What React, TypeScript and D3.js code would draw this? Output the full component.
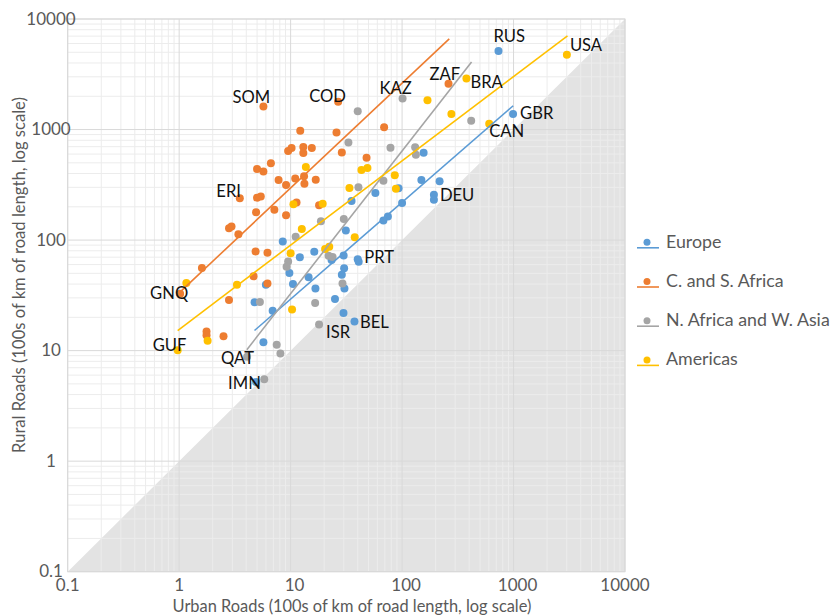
import React from "react";
import * as d3 from "d3";

// [urban, rural, label] in 100s of km
const europe: [number, number, string?][] = [
  [733, 5130, "RUS"], [990, 1380, "GBR"], [156, 617], [149, 349], [217, 340],
  [193, 257, "DEU"], [193, 232], [57.6, 267], [93, 294], [35.2, 226], [100, 217],
  [74.6, 163], [68, 150], [31.3, 122], [16.3, 78.5], [12.1, 70], [29.9, 72.6],
  [40, 67, "PRT"], [40.8, 63.8], [23.3, 66], [14.5, 46], [16.7, 36.5], [30.2, 55.5],
  [28.8, 48.6], [30.4, 36.5], [25, 29.3], [29.8, 21.9], [37.4, 18.3, "BEL"],
  [8.5, 97], [9.75, 50.5], [10.5, 40], [6.0, 39.5], [4.75, 27.4], [6.9, 23],
  [5.7, 11.9], [4.9, 5.2, "IMN"],
];

const africa: [number, number, string?][] = [
  [5.7, 1620, "SOM"], [26.7, 1780, "COD"], [261, 2600, "ZAF"], [12.2, 975], [25.8, 940],
  [69, 1050], [9.5, 640], [10.2, 680], [13, 695], [13, 615], [15.5, 680], [28.8, 620],
  [48, 555], [6.65, 495], [5.0, 440], [5.7, 418], [7.8, 350], [9.1, 315], [11, 361],
  [13.2, 377], [13.3, 324], [16.8, 352], [3.5, 239, "ERI"], [5.0, 242], [5.4, 248],
  [4.9, 179], [7.15, 188], [9.1, 168], [11.3, 219], [18, 207], [2.8, 128], [2.95, 133],
  [3.4, 113], [4.85, 79], [6.2, 77], [1.6, 56], [1.02, 32.7, "GNQ"], [4.65, 47],
  [6.2, 40.5], [2.8, 28.7], [1.76, 14.9], [1.76, 13.8], [2.5, 13.5],
];

const asia: [number, number, string?][] = [
  [101, 1910, "KAZ"], [40, 1460], [417, 1200], [33, 765], [78.7, 685], [131, 690],
  [133, 592], [68, 344], [40.6, 300], [18.7, 148], [30, 155], [21.9, 72.3], [23.8, 70.3],
  [29.2, 40.4], [16.6, 27], [11.1, 107], [9.5, 64], [9.2, 57.5], [5.3, 27.6],
  [18, 17.2, "ISR"], [7.5, 11.3], [8.1, 9.4], [5.8, 5.5], [4.07, 8.8, "QAT"],
];

const americas: [number, number, string?][] = [
  [3010, 4740, "USA"], [378, 2900, "BRA"], [169, 1840], [277, 1380], [605, 1130, "CAN"],
  [13.7, 458], [43.2, 430], [48.9, 449], [86, 385], [33.7, 296], [88, 292], [19.4, 213],
  [10.6, 211], [12.6, 126], [37.6, 106], [20.4, 83], [22.2, 87], [10, 76], [3.3, 39.4],
  [1.16, 41], [10.3, 23.5], [1.8, 12.3], [0.97, 10.1, "GUF"],
];

// power trendlines, [x0, y0, x1, y1]
const trendLines: Record<string, [number, number, number, number]> = {
  Europe: [4.74, 15.2, 993, 1641],
  "C. and S. Africa": [1, 33.3, 265, 6620],
  "N. Africa and W. Asia": [4.05, 10.2, 420, 4074],
  Americas: [0.97, 15.2, 3048, 7047],
};

const seriesNames = ["Europe", "C. and S. Africa", "N. Africa and W. Asia", "Americas"];
const seriesData = [europe, africa, asia, americas];
const colors = ["#5B9BD5", "#ED7D31", "#A5A5A5", "#FFC000"];

const majorTicks = [0.1, 1, 10, 100, 1000, 10000];
const tickLabels = ["0.1", "1", "10", "100", "1000", "10000"];

// label placement relative to its point (px)
const labelOffset: Record<string, [number, number]> = {
  SOM: [-31, -3], COD: [-29, 0], KAZ: [-23, -4], ZAF: [-19, -4], BRA: [4, 10],
  RUS: [-5, -9], USA: [3, -4], GBR: [7, 5], CAN: [0, 13], DEU: [6, 6], PRT: [6.5, 4],
  BEL: [5.5, 6], ISR: [7, 13], ERI: [-23.5, -1], GNQ: [-30, 5], GUF: [-25, 1],
  QAT: [-26, 7], IMN: [-28, 7],
};

const W = 833;
const H = 616;
const font = "Lato, 'Open Sans', sans-serif";

export default function App() {
  const x = d3.scaleLog().domain([0.1, 10000]).range([67.7, 625]);
  const y = d3.scaleLog().domain([0.1, 10000]).range([571.7, 19]);

  const minor: number[] = [];
  majorTicks.slice(0, -1).forEach((d) => {
    for (let k = 2; k < 10; k++) minor.push(d * k);
  });

  const [x0, x1] = x.range();
  const [y0, y1] = y.range();

  const triangle = d3.line()([
    [x(0.1), y(0.1)],
    [x(10000), y(10000)],
    [x(10000), y(0.1)],
  ]) + "Z";

  return (
    <svg width={W} height={H} style={{ position: "absolute", left: 0, top: 0, background: "#fff" }}>
      <path d={triangle} fill="#e3e3e3" />
      <g>
        {minor.map((v) => (
          <g key={"m" + v}>
            <line x1={x(v)} x2={x(v)} y1={y0} y2={y1} stroke="#ececec" strokeWidth={1} />
            <line x1={x0} x2={x1} y1={y(v)} y2={y(v)} stroke="#ececec" strokeWidth={1} />
          </g>
        ))}
        {majorTicks.map((v) => (
          <g key={"M" + v}>
            <line x1={x(v)} x2={x(v)} y1={y0} y2={y1} stroke="#d9d9d9" strokeWidth={1} />
            <line x1={x0} x2={x1} y1={y(v)} y2={y(v)} stroke="#d9d9d9" strokeWidth={1} />
          </g>
        ))}
        <rect x={x0} y={y1} width={x1 - x0} height={y0 - y1} fill="none" stroke="#d9d9d9" />
      </g>

      {majorTicks.map((v, i) => (
        <text key={"xt" + v} x={x(v) + (i > 1 && i < 5 ? 4 : 0)} y={591} textAnchor="middle" fontFamily={font} fontSize={17} fill="#595959">
          {tickLabels[i]}
        </text>
      ))}
      {majorTicks.map((v, i) => (
        <text key={"yt" + v} x={51} y={y(v) + 5.5} textAnchor="middle" fontFamily={font} fontSize={17} fill="#595959">
          {tickLabels[i]}
        </text>
      ))}

      <text x={352} y={611.5} textAnchor="middle" fontFamily={font} fontSize={16.4} fill="#595959">
        Urban Roads (100s of km of road length, log scale)
      </text>
      <text
        transform="translate(25,275) rotate(-90)"
        textAnchor="middle"
        fontFamily={font}
        fontSize={16.6}
        fill="#595959"
      >
        Rural Roads (100s of km of road length, log scale)
      </text>

      {seriesData.map((data, si) => (
        <g key={"s" + si} fill={colors[si]}>
          {data.map((d, i) => (
            <circle key={i} cx={x(d[0])} cy={y(d[1])} r={4} />
          ))}
        </g>
      ))}

      {seriesNames.map((name, si) => {
        const t = trendLines[name];
        return (
          <line
            key={"t" + name}
            x1={x(t[0])}
            y1={y(t[1])}
            x2={x(t[2])}
            y2={y(t[3])}
            stroke={colors[si]}
            strokeWidth={1.6}
          />
        );
      })}

      {seriesData.map((data) =>
        data
          .filter((d) => d[2])
          .map((d) => {
            const off = labelOffset[d[2] as string] || [4, 4];
            return (
              <text
                key={d[2]}
                x={x(d[0]) + off[0]}
                y={y(d[1]) + off[1]}
                fontFamily={font}
                fontSize={16.6}
                fill="#111"
              >
                {d[2]}
              </text>
            );
          })
      )}

      {seriesNames.map((name, i) => {
        const cy = 242.3 + i * 39.2;
        return (
          <g key={"lg" + name}>
            <line x1={637} x2={659} y1={cy + 5.5} y2={cy + 5.5} stroke={colors[i]} strokeWidth={1.6} />
            <circle cx={647} cy={cy} r={3.5} fill={colors[i]} />
            <text x={666} y={cy + 5.5} fontFamily={font} fontSize={17.8} fill="#595959">
              {name}
            </text>
          </g>
        );
      })}
    </svg>
  );
}
